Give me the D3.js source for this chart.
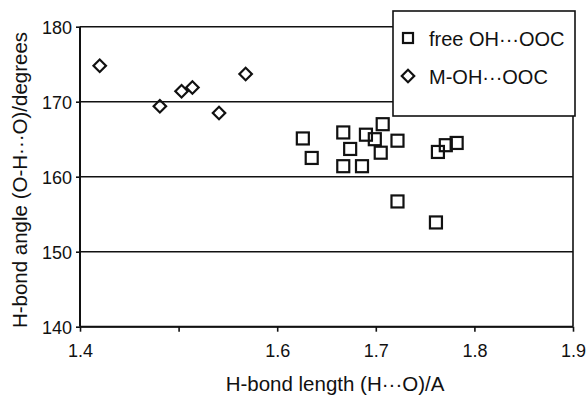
<!DOCTYPE html>
<html>
<head>
<meta charset="utf-8">
<script src="https://cdn.jsdelivr.net/npm/d3@7"></script>
<style>
  body { margin: 0; background: #fff; }
  text { font-family: "Liberation Sans", Arial, sans-serif; fill: #111; }
</style>
</head>
<body>
<div id="canvas"></div>
<script>
"use strict";

/* Data */
let freeLength = [1.626, 1.635, 1.667, 1.674, 1.667, 1.686, 1.690, 1.699, 1.707, 1.705, 1.722, 1.763, 1.771, 1.782, 1.722, 1.761];
let freeAngle = [165.1, 162.5, 165.9, 163.7, 161.4, 161.4, 165.6, 165.0, 167.0, 163.2, 164.8, 163.3, 164.2, 164.5, 156.7, 153.9];
let metalLength = [1.420, 1.481, 1.503, 1.514, 1.541, 1.568];
let metalAngle = [174.8, 169.4, 171.4, 171.9, 168.5, 173.7];

let xTicks = [1.4, 1.5, 1.6, 1.7, 1.8, 1.9];
let xTickLabels = ["1.4", "", "1.6", "1.7", "1.8", "1.9"];
let yTicks = [140, 150, 160, 170, 180];
let seriesNames = ["free OH\u00B7\u00B7\u00B7OOC", "M-OH\u00B7\u00B7\u00B7OOC"];

/* SVG setup */
let svgWidth = 586;
let svgHeight = 396;
let plotLeft = 80, plotRight = 573, plotTop = 26.7, plotBottom = 326.7;

let svg = d3.select("#canvas")
  .append("svg")
  .attr("width", svgWidth)
  .attr("height", svgHeight);

let xScale = d3.scaleLinear().domain([1.4, 1.9]).range([plotLeft, plotRight]);
let yScale = d3.scaleLinear().domain([140, 180]).range([plotBottom, plotTop]);

/* Gridlines */
for (let i = 0; i < yTicks.length; i++) {
  svg.append("line")
    .attr("x1", plotLeft)
    .attr("x2", plotRight)
    .attr("y1", yScale(yTicks[i]))
    .attr("y2", yScale(yTicks[i]))
    .attr("stroke", "#111")
    .attr("stroke-width", 1.6);
}

/* Right border */
svg.append("line")
  .attr("x1", plotRight).attr("x2", plotRight)
  .attr("y1", plotTop).attr("y2", plotBottom)
  .attr("stroke", "#111")
  .attr("stroke-width", 1.6);

/* Axes */
let xAxis = d3.axisBottom(xScale)
  .tickValues(xTicks)
  .tickSize(5)
  .tickPadding(6)
  .tickFormat(function (d, i) { return xTickLabels[i]; });

let yAxis = d3.axisLeft(yScale)
  .tickValues(yTicks)
  .tickSize(4)
  .tickPadding(4)
  .tickFormat(d3.format("d"));

let gx = svg.append("g")
  .attr("transform", "translate(0," + plotBottom + ")")
  .call(xAxis);

let gy = svg.append("g")
  .attr("transform", "translate(" + plotLeft + ",0)")
  .call(yAxis);

[gx, gy].forEach(function (g) {
  g.select(".domain").attr("stroke", "#111").attr("stroke-width", 2);
  g.selectAll(".tick line").attr("stroke", "#111").attr("stroke-width", 1.6);
  g.selectAll(".tick text")
    .style("font-size", "18px")
    .style("font-family", "Liberation Sans, Arial, sans-serif")
    .attr("fill", "#111");
});
gy.select(".domain").attr("d", "M0," + plotTop + "V" + plotBottom);
gx.select(".domain").attr("d", "M" + plotLeft + ",0H" + plotRight);
gx.selectAll(".tick text").attr("dy", "1.05em");
gy.selectAll(".tick text").attr("dy", "0.36em");

/* Markers */
let squareSize = 12;
for (let i = 0; i < freeLength.length; i++) {
  svg.append("rect")
    .attr("x", xScale(freeLength[i]) - squareSize / 2)
    .attr("y", yScale(freeAngle[i]) - squareSize / 2)
    .attr("width", squareSize)
    .attr("height", squareSize)
    .attr("fill", "none")
    .attr("stroke", "#111")
    .attr("stroke-width", 2.2);
}

let diamond = d3.symbol().type(d3.symbolSquare).size(78);
for (let i = 0; i < metalLength.length; i++) {
  svg.append("path")
    .attr("d", diamond())
    .attr("transform", "translate(" + xScale(metalLength[i]) + "," + yScale(metalAngle[i]) + ") rotate(45)")
    .attr("fill", "none")
    .attr("stroke", "#111")
    .attr("stroke-width", 2.2);
}

/* Axis titles */
svg.append("text")
  .attr("x", 335)
  .attr("y", 391)
  .attr("text-anchor", "middle")
  .style("font-size", "20.5px")
  .text("H-bond length (H\u00B7\u00B7\u00B7O)/A");

svg.append("text")
  .attr("transform", "rotate(-90)")
  .attr("x", -180)
  .attr("y", 27)
  .attr("text-anchor", "middle")
  .style("font-size", "20.5px")
  .text("H-bond angle (O-H\u00B7\u00B7\u00B7O)/degrees");

/* Legend */
let legX = 393, legY = 11, legW = 182, legH = 105;
svg.append("rect")
  .attr("x", legX)
  .attr("y", legY)
  .attr("width", legW)
  .attr("height", legH)
  .attr("fill", "#fff")
  .attr("stroke", "#111")
  .attr("stroke-width", 1.6);

svg.append("rect")
  .attr("x", legX + 15 - squareSize / 2 + 1)
  .attr("y", legY + 27 - squareSize / 2 + 1)
  .attr("width", squareSize - 2)
  .attr("height", squareSize - 2)
  .attr("fill", "none")
  .attr("stroke", "#111")
  .attr("stroke-width", 2.2);

svg.append("path")
  .attr("d", diamond())
  .attr("transform", "translate(" + (legX + 15) + "," + (legY + 65) + ") rotate(45)")
  .attr("fill", "none")
  .attr("stroke", "#111")
  .attr("stroke-width", 2.2);

for (let i = 0; i < seriesNames.length; i++) {
  svg.append("text")
    .attr("x", legX + 36)
    .attr("y", legY + 35 + i * 38)
    .style("font-size", "20px")
    .text(seriesNames[i]);
}
</script>
</body>
</html>
